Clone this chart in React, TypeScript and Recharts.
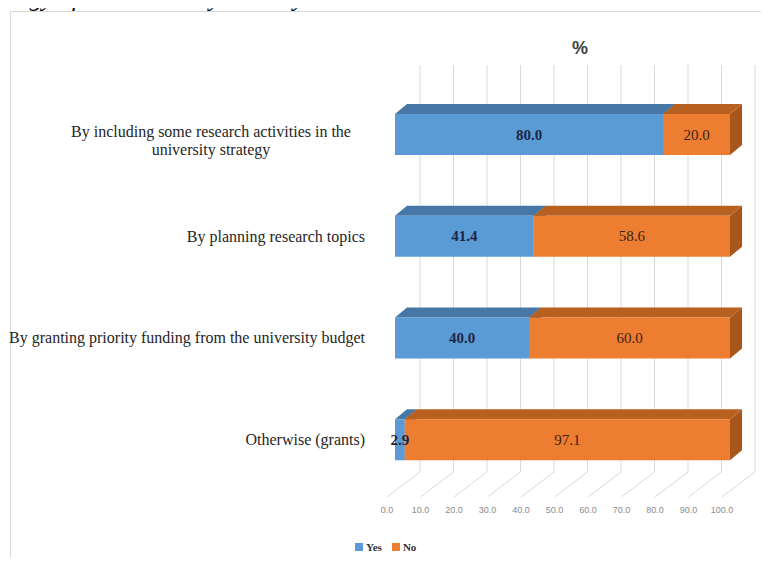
import React from 'react';
import { BarChart, Bar, XAxis, YAxis, CartesianGrid, LabelList } from 'recharts';

const categories = [
  'By including some research activities in the\nuniversity strategy',
  'By planning research topics',
  'By granting priority funding from the university budget',
  'Otherwise (grants)',
];
const yesValues = [80.0, 41.4, 40.0, 2.9];
const noValues = [20.0, 58.6, 60.0, 97.1];
const xTicks = [0, 10, 20, 30, 40, 50, 60, 70, 80, 90, 100];
const seriesNames = ['Yes', 'No'];
const seriesColors = ['#5B9BD5', '#ED7D31'];
const topColors = ['#4677A6', '#B8601F'];
const sideColors = ['#3E6A94', '#A9561C'];

const data = categories.map((name, i) => ({ name, yes: yesValues[i], no: noValues[i] }));

const DX = 12;
const DY = 10;
const GX = 25;
const GY = 19;
const SERIF = '"Liberation Serif", "DejaVu Serif", serif';
const SANS = '"Liberation Sans", Arial, sans-serif';

function Bar3D(props: any) {
  const { x, y, width, height, front, top, side } = props;
  if (width == null || height == null) return null;
  return (
    <g>
      <polygon
        points={`${x + width},${y} ${x + width + DX},${y - DY} ${x + width + DX},${y + height - DY} ${x + width},${y + height}`}
        fill={side}
      />
      <polygon points={`${x},${y} ${x + DX},${y - DY} ${x + width + DX},${y - DY} ${x + width},${y}`} fill={top} />
      <rect x={x} y={y} width={width} height={height} fill={front} />
    </g>
  );
}

function XTick(props: any) {
  const { x, y, payload } = props;
  return (
    <text x={x - 8} y={y + 22} textAnchor="middle" fontSize={9} fill="#8c8c8c" fontFamily={SANS}>
      {Number(payload.value).toFixed(1)}
    </text>
  );
}

function YTick(props: any) {
  const { x, y, payload } = props;
  const lines: string[] = String(payload.value).split('\n');
  if (lines.length > 1) {
    const maxLen = Math.max(...lines.map((l) => l.length));
    const cx = x - (maxLen * 7.0) / 2;
    return (
      <text textAnchor="middle" fontSize={16} fill="#262626" fontFamily={SERIF}>
        {lines.map((l, i) => (
          <tspan key={i} x={cx} y={y + 2 + i * 18}>
            {l}
          </tspan>
        ))}
      </text>
    );
  }
  return (
    <text x={x} y={y + 5} textAnchor="end" fontSize={16} fill="#262626" fontFamily={SERIF}>
      {lines[0]}
    </text>
  );
}

function gridLine(props: any) {
  const { x1, y1, y2, key } = props;
  return (
    <g key={key}>
      <line x1={x1 + GX} y1={y1 - GY} x2={x1 + GX} y2={y2 - GY} stroke="#d9d9d9" strokeWidth={1} />
      <line x1={x1 + GX} y1={y2 - GY} x2={x1 - 8} y2={y2 + 6} stroke="#d9d9d9" strokeWidth={1} />
    </g>
  );
}

function makeLabel(bold: boolean, color: string) {
  return (p: any) => {
    const { x, y, width, height, value } = p;
    return (
      <text
        x={x + width / 2}
        y={y + height / 2 + 5}
        textAnchor="middle"
        fontSize={15}
        fontWeight={bold ? 'bold' : 'normal'}
        fill={color}
        fontFamily={SERIF}
      >
        {Number(value).toFixed(1)}
      </text>
    );
  };
}

export default function App() {
  return (
    <div style={{ position: 'relative', width: 769, height: 565, margin: -8, overflow: 'hidden', background: '#fff' }}>
      <svg width={769} height={20} style={{ position: 'absolute', left: 0, top: 0 }}>
        <text x={-1} y={6} fontFamily={SERIF} fontStyle="italic" fontSize={25} fill="#000">
          ategy of the university where you work.
        </text>
      </svg>
      <div
        style={{
          position: 'absolute',
          left: 10,
          top: 11,
          width: 800,
          height: 600,
          borderTop: '1px solid #d9d9d9',
          borderLeft: '1px solid #d9d9d9',
        }}
      />
      <div
        style={{
          position: 'absolute',
          left: 560,
          top: 38,
          width: 40,
          textAlign: 'center',
          fontFamily: SANS,
          fontWeight: 'bold',
          fontSize: 18,
          color: '#404040',
        }}
      >
        %
      </div>
      <div style={{ position: 'absolute', left: 0, top: 0 }}>
        <BarChart
          width={769}
          height={565}
          data={data}
          layout="vertical"
          margin={{ top: 84, right: 39, bottom: 44, left: 0 }}
          barSize={41}
        >
          <CartesianGrid horizontal={false} vertical={gridLine as any} />
          <XAxis
            type="number"
            domain={[0, 100]}
            ticks={xTicks}
            axisLine={false}
            tickLine={false}
            tickSize={0}
            tickMargin={0}
            height={30}
            interval={0}
            tick={<XTick />}
          />
          <YAxis
            type="category"
            dataKey="name"
            width={395}
            axisLine={false}
            tickLine={false}
            tickSize={0}
            tickMargin={30}
            interval={0}
            tick={<YTick />}
          />
          <Bar
            dataKey="yes"
            name={seriesNames[0]}
            stackId="a"
            fill={seriesColors[0]}
            isAnimationActive={false}
            shape={(p: any) => <Bar3D {...p} front={seriesColors[0]} top={topColors[0]} side={sideColors[0]} />}
          >
            <LabelList dataKey="yes" content={makeLabel(true, '#1b2645')} />
          </Bar>
          <Bar
            dataKey="no"
            name={seriesNames[1]}
            stackId="a"
            fill={seriesColors[1]}
            isAnimationActive={false}
            shape={(p: any) => <Bar3D {...p} front={seriesColors[1]} top={topColors[1]} side={sideColors[1]} />}
          >
            <LabelList dataKey="no" content={makeLabel(false, '#3a2415')} />
          </Bar>
        </BarChart>
      </div>
      <div
        style={{
          position: 'absolute',
          left: 355,
          top: 541,
          display: 'flex',
          alignItems: 'center',
          fontFamily: SERIF,
          fontWeight: 'bold',
          fontSize: 11,
          color: '#333',
        }}
      >
        {seriesNames.map((n, i) => (
          <div key={n} style={{ display: 'flex', alignItems: 'center', marginRight: 10 }}>
            <div style={{ width: 8, height: 8, background: seriesColors[i], marginRight: 3 }} />
            <span>{n}</span>
          </div>
        ))}
      </div>
    </div>
  );
}
